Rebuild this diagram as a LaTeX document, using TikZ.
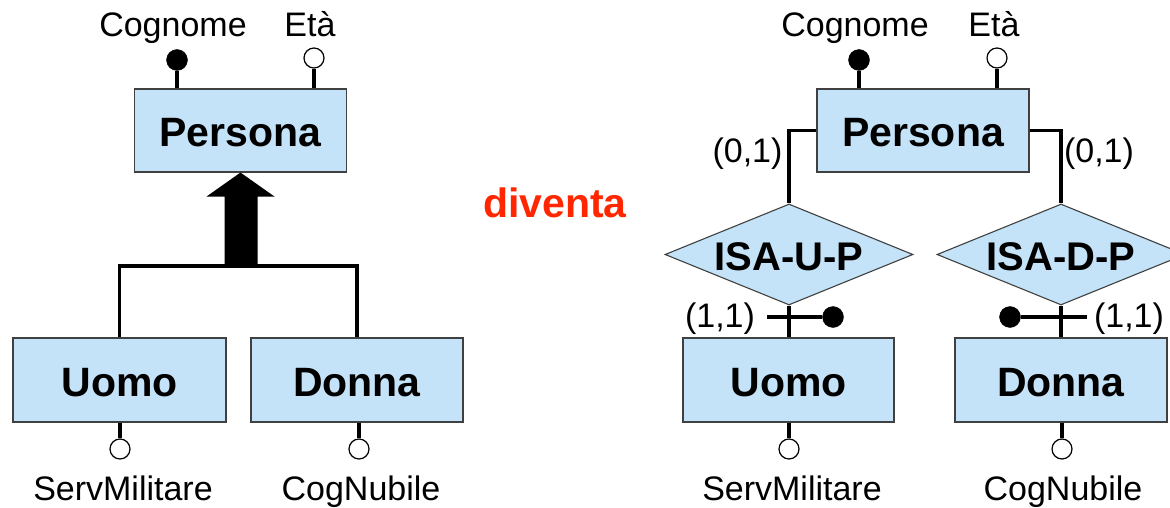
\documentclass[tikz,border=0pt]{standalone}
\usepackage{fontspec}
\setmainfont{Liberation Sans}
\usetikzlibrary{shapes.geometric}
\definecolor{entfill}{RGB}{197,227,248}
\definecolor{dred}{RGB}{255,38,0}
\begin{document}
\begin{tikzpicture}[x=1pt,y=-1pt,
 entity/.style={draw=black!75, line width=1.1pt, fill=entfill, minimum width=212pt, minimum height=83pt, inner sep=0pt, font=\fontsize{41}{48}\selectfont\bfseries, text height=32pt, text depth=0pt},
 rel/.style={diamond, draw=black!75, line width=1.1pt, fill=entfill, minimum width=248pt, minimum height=101pt, inner sep=0pt},
 relname/.style={font=\fontsize{40}{48}\selectfont\bfseries, text height=32pt, text depth=0pt, inner sep=0pt},
 conn/.style={line width=3.3pt},
 attrw/.style={circle, draw=black, line width=1.2pt, fill=white, minimum size=20pt, inner sep=0pt},
 attrb/.style={circle, draw=black, fill=black, minimum size=21pt, inner sep=0pt},
 lbl/.style={font=\fontsize{34}{40}\selectfont, anchor=base, inner sep=0pt},
]
\useasboundingbox (0,0) rectangle (1170,508);

% ---------- left diagram ----------
\node[entity] (pl) at (240.5,130.5) {Persona};
\node[entity, minimum width=213pt, minimum height=84pt] (ul) at (119.5,380) {Uomo};
\node[entity, minimum height=84pt] (dl) at (357,380) {Donna};

\node[attrb] (cgl) at (177,60) {};
\node[attrw] (etl) at (314,58) {};
\node[attrw] (sml) at (120,449) {};
\node[attrw] (cnl) at (359,449) {};
\draw[conn] (cgl |- pl.north) -- (cgl);
\draw[conn] (etl |- pl.north) -- (etl);
\draw[conn] (sml |- ul.south) -- (sml);
\draw[conn] (cnl |- dl.south) -- (cnl);
\node[lbl] (tcgl) at (173,37) {Cognome};
\node[lbl] (tetl) at (310,37) {Età};
\node[lbl] (tsml) at (123,500) {ServMilitare};
\node[lbl] (tcnl) at (361,500) {CogNubile};

\coordinate (hb) at (242,266);
\draw[conn] (ul.north) -- (ul.north |- hb) -- (dl.north |- hb) -- (dl.north);
\fill (pl.south) -- ++(34,24) -- ++(-17,0) -- ++(0,70) -- ++(-33,0) -- ++(0,-70) -- ++(-18,0) -- cycle;

% ---------- middle ----------
\node[font=\fontsize{41}{48}\selectfont\bfseries, text=dred, anchor=base, inner sep=0pt] (div) at (555,217) {diventa};

% ---------- right diagram ----------
\node[entity] (pr) at (923,130.5) {Persona};
\node[rel, label={[relname]center:ISA-U-P}] (isau) at (789,254.5) {};
\node[rel, label={[relname]center:ISA-D-P}] (isad) at (1061,254.5) {};
\node[entity, minimum width=211pt, minimum height=84pt] (ur) at (788.5,380) {Uomo};
\node[entity, minimum height=84pt] (dr) at (1061,380) {Donna};

\draw[conn] (pr.west) -| (isau.north);
\draw[conn] (pr.east) -| (isad.north);
\draw[conn] (isau.south) -- (isau.south |- ur.north);
\draw[conn] (isad.south) -- (isad.south |- dr.north);

\node[attrb] (dotu) at (833,317) {};
\coordinate (tu) at (767,317);
\draw[conn] (tu) -- (dotu);
\node[attrb] (dotd) at (1010,317) {};
\coordinate (td) at (1087,317);
\draw[conn] (td) -- (dotd);

\node[lbl] (c01l) at (747.5,162) {(0,1)};
\node[lbl] (c01r) at (1099,162) {(0,1)};
\node[lbl] (c11l) at (720,327) {(1,1)};
\node[lbl] (c11r) at (1129,327) {(1,1)};

\node[attrb] (cgr) at (859,60) {};
\node[attrw] (etr) at (997,58) {};
\node[attrw] (smr) at (789,449) {};
\node[attrw] (cnr) at (1062,449) {};
\draw[conn] (cgr |- pr.north) -- (cgr);
\draw[conn] (etr |- pr.north) -- (etr);
\draw[conn] (smr |- ur.south) -- (smr);
\draw[conn] (cnr |- dr.south) -- (cnr);
\node[lbl] (tcgr) at (855,37) {Cognome};
\node[lbl] (tetr) at (994,37) {Età};
\node[lbl] (tsmr) at (792,500) {ServMilitare};
\node[lbl] (tcnr) at (1063,500) {CogNubile};
\end{tikzpicture}
\end{document}
